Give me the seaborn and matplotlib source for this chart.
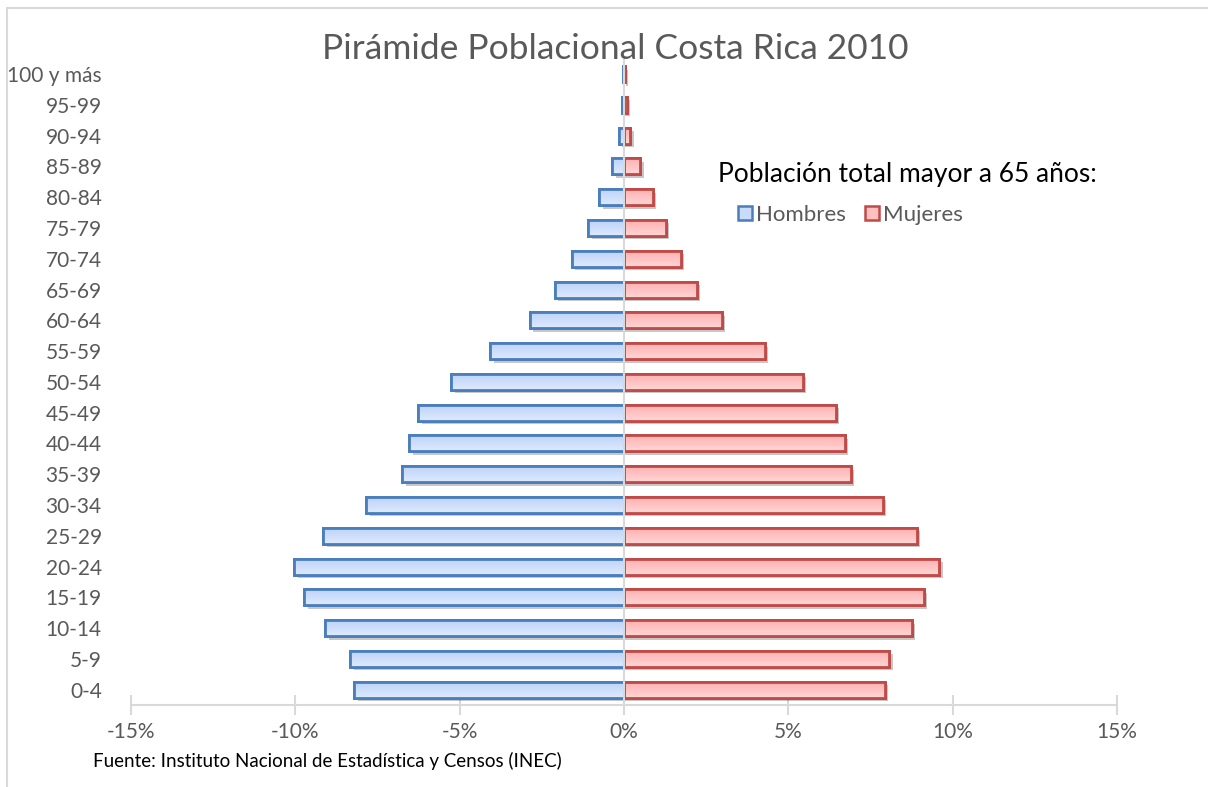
import matplotlib
matplotlib.use("Agg")
import matplotlib.pyplot as plt
import matplotlib.patheffects as pe
from matplotlib.ticker import FuncFormatter, MultipleLocator
from matplotlib.patches import Rectangle
from matplotlib.lines import Line2D
from matplotlib.colors import LinearSegmentedColormap
import numpy as np
import pandas as pd
import seaborn as sns

# Age groups, youngest first
grupos = ["0-4", "5-9", "10-14", "15-19", "20-24", "25-29", "30-34", "35-39",
          "40-44", "45-49", "50-54", "55-59", "60-64", "65-69", "70-74",
          "75-79", "80-84", "85-89", "90-94", "95-99", "100 y más"]

# Share of total population (%) by sex
hombres = [8.21, 8.33, 9.09, 9.73, 10.03, 9.15, 7.84, 6.75, 6.53, 6.26, 5.26,
           4.07, 2.86, 2.10, 1.58, 1.09, 0.75, 0.36, 0.15, 0.07, 0.03]
mujeres = [7.94, 8.07, 8.76, 9.12, 9.59, 8.91, 7.87, 6.90, 6.72, 6.44, 5.44,
           4.29, 2.98, 2.22, 1.73, 1.28, 0.88, 0.49, 0.19, 0.09, 0.03]

titulo = "Pirámide Poblacional Costa Rica 2010"
leyenda_titulo = "Población total mayor a 65 años:"
fuente = "Fuente: Instituto Nacional de Estadística y Censos (INEC)"

sns.set_theme(style="white")
plt.rcParams["font.family"] = ["Lato", "DejaVu Sans"]

df = pd.DataFrame({
    "grupo": grupos * 2,
    "valor": [-v for v in hombres] + mujeres,
    "sexo": ["Hombres"] * len(grupos) + ["Mujeres"] * len(grupos),
})

fig = plt.figure(figsize=(12.08, 7.87), dpi=100)
ax = fig.add_axes([0.1084, 0.1042, 0.8162, 0.8212])

azul_relleno, azul_borde = "#c9dbf9", "#4a7ebb"
rojo_relleno, rojo_borde = "#ffbfbf", "#be4b48"
gris_texto = "#595959"
gris_eje = "#d9d9d9"
degradado = {
    "Hombres": LinearSegmentedColormap.from_list("az", ["#dde9fe", "#bcd2f8"]),
    "Mujeres": LinearSegmentedColormap.from_list("ro", ["#ffd6d6", "#ffadad"]),
}

orden = grupos[::-1]
sombra = [pe.SimplePatchShadow(offset=(2.5, -2.5), shadow_rgbFace="#000000",
                               alpha=0.22),
          pe.Normal()]

barras = {}
for sexo, relleno, borde in [("Hombres", azul_relleno, azul_borde),
                             ("Mujeres", rojo_relleno, rojo_borde)]:
    n0 = len(ax.patches)
    sns.barplot(data=df[df.sexo == sexo], x="valor", y="grupo", order=orden,
                color=relleno, edgecolor=borde, linewidth=2.0,
                width=0.52, saturation=1, ax=ax, orient="h")
    barras[sexo] = (list(ax.patches[n0:]), borde)

ax.set_xlim(-15, 15)
ax.set_ylim(len(grupos) - 0.5, -0.5)

# vertical gradient inside each bar, then the outline on top
grad = np.linspace(0, 1, 64).reshape(-1, 1)
for sexo, (parches, borde) in barras.items():
    for p in parches:
        p.set_path_effects(sombra)
        x0, y0 = p.get_x(), p.get_y()
        w, h = p.get_width(), p.get_height()
        im = ax.imshow(grad, cmap=degradado[sexo], aspect="auto",
                       extent=(x0, x0 + w, y0, y0 + h), origin="upper",
                       zorder=p.get_zorder() + 0.1, interpolation="bilinear")
        im.set_clip_path(p)
        ax.add_patch(Rectangle((x0, y0), w, h, fill=False, edgecolor=borde,
                               linewidth=2.0, zorder=p.get_zorder() + 0.2))

ax.set_xlim(-15, 15)
ax.set_ylim(len(grupos) - 0.5, -0.5)
ax.set_aspect("auto")
ax.xaxis.set_major_locator(MultipleLocator(5))
ax.xaxis.set_major_formatter(FuncFormatter(lambda v, _: f"{v:.0f}%"))
ax.set_xlabel("")
ax.set_ylabel("")

for s in ["top", "right", "left"]:
    ax.spines[s].set_visible(False)
ax.spines["bottom"].set_color(gris_eje)
ax.spines["bottom"].set_linewidth(1.5)
ax.tick_params(axis="x", which="major", direction="inout", length=14, width=1.5,
               color=gris_eje, labelcolor=gris_texto, labelsize=15, pad=5,
               bottom=True)
ax.tick_params(axis="y", length=0, labelcolor=gris_texto, labelsize=15, pad=21)

# vertical axis at zero
ax.axvline(0, color=gris_eje, linewidth=1.5, zorder=5)

fig.text(0.509, 0.938, titulo, ha="center", va="center", fontsize=25.5,
         color=gris_texto)

handles = [Line2D([], [], marker="s", linestyle="none", markersize=9.5,
                  markerfacecolor=azul_relleno, markeredgecolor=azul_borde,
                  markeredgewidth=1.8, label="Hombres"),
           Line2D([], [], marker="s", linestyle="none", markersize=9.5,
                  markerfacecolor=rojo_relleno, markeredgecolor=rojo_borde,
                  markeredgewidth=1.8, label="Mujeres")]
fig.text(0.594, 0.778, leyenda_titulo, ha="left", va="center", fontsize=19,
         color="black")
leg = fig.legend(handles=handles, loc="center left",
                 bbox_to_anchor=(0.594, 0.727), ncol=2, frameon=False,
                 fontsize=16, handlelength=0.7, handletextpad=0.15,
                 columnspacing=0.8)
for t in leg.get_texts():
    t.set_color(gris_texto)

fig.text(0.077, 0.033, fuente, ha="left", va="center", fontsize=13.5,
         color="black")

# chart area frame
fig.add_artist(Rectangle((0.0055, -0.01), 1.0, 1.0, transform=fig.transFigure,
                         fill=False, edgecolor=gris_eje, linewidth=1.5))

fig.savefig("out.png", dpi=100)
